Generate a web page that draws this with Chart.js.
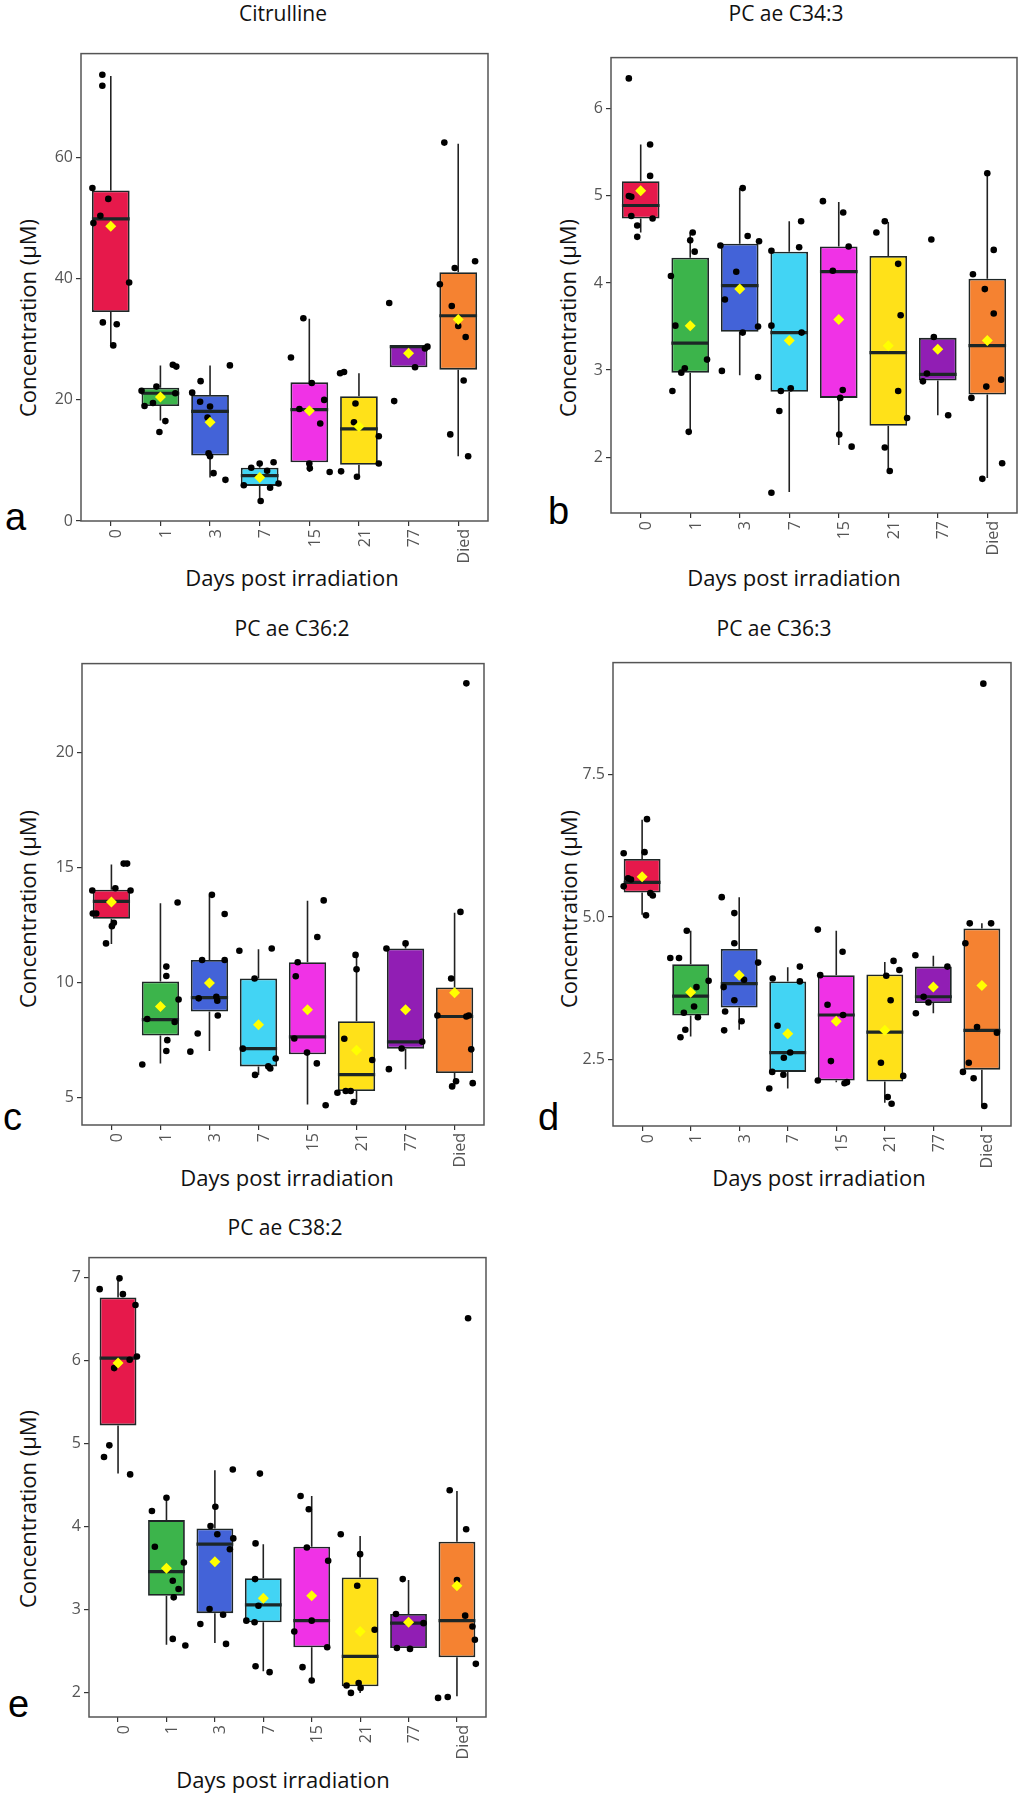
<!DOCTYPE html>
<html>
<head>
<meta charset="utf-8">
<script src="https://cdn.jsdelivr.net/npm/chart.js@4.4.1/dist/chart.umd.min.js"></script>
<style>
  body { margin: 0; background: #fff; width: 1022px; height: 1800px; position: relative; overflow: hidden; font-family: 'Open Sans', sans-serif; }
  .wrap { position: absolute; }
  .t { position: absolute; transform: translate(-50%, -50%); white-space: nowrap; color: #111; line-height: 1; }
  .title { font-size: 21px; }
  .axt { font-size: 22px; }
  .ylab { transform: translate(-50%, -50%) rotate(-90deg); }
  .letter { position: absolute; font: 38px 'Liberation Sans', Arial, sans-serif; line-height: 1; color: #000; }
</style>
</head>
<body>

<!-- panel a -->
<div class="t title" style="left:283px;top:12.5px">Citrulline</div>
<div class="t axt ylab" style="left:27px;top:318px">Concentration (µM)</div>
<div class="t axt" style="left:292px;top:577px">Days post irradiation</div>
<div class="letter" style="left:5px;top:498px">a</div>
<div class="wrap" id="wa"><canvas id="ca"></canvas></div>

<!-- panel b -->
<div class="t title" style="left:786px;top:13px">PC ae C34:3</div>
<div class="t axt ylab" style="left:567px;top:318px">Concentration (µM)</div>
<div class="t axt" style="left:794px;top:577px">Days post irradiation</div>
<div class="letter" style="left:548px;top:492px">b</div>
<div class="wrap" id="wb"><canvas id="cb"></canvas></div>

<!-- panel c -->
<div class="t title" style="left:292px;top:628px">PC ae C36:2</div>
<div class="t axt ylab" style="left:27px;top:909px">Concentration (µM)</div>
<div class="t axt" style="left:287px;top:1177px">Days post irradiation</div>
<div class="letter" style="left:3px;top:1098px">c</div>
<div class="wrap" id="wc"><canvas id="cc"></canvas></div>

<!-- panel d -->
<div class="t title" style="left:774px;top:628px">PC ae C36:3</div>
<div class="t axt ylab" style="left:568px;top:909px">Concentration (µM)</div>
<div class="t axt" style="left:819px;top:1177px">Days post irradiation</div>
<div class="letter" style="left:538px;top:1098px">d</div>
<div class="wrap" id="wd"><canvas id="cd"></canvas></div>

<!-- panel e -->
<div class="t title" style="left:285px;top:1227px">PC ae C38:2</div>
<div class="t axt ylab" style="left:27px;top:1509px">Concentration (µM)</div>
<div class="t axt" style="left:283px;top:1779px">Days post irradiation</div>
<div class="letter" style="left:8px;top:1685px">e</div>
<div class="wrap" id="we"><canvas id="ce"></canvas></div>

<script>
// ---- shared categories / colours ----
const days = ['0', '1', '3', '7', '15', '21', '77', 'Died'];
const boxColors = ['#e6194b', '#3cb44b', '#4363d8', '#42d4f4', '#f032e6', '#ffe119', '#911eb4', '#f58231'];

// ---- a: Citrulline ----
const citTicks = [0, 20, 40, 60];
const citTickLabels = ['0', '20', '40', '60'];
const citRange = [0, 77.2];
const citLow  = [29.2, 16.6, 7.2, 3.4, 8.1, 7.3, 25.4, 10.7];
const citQ1   = [34.5, 19.0, 10.8, 5.8, 9.7, 9.3, 25.4, 25.0];
const citMed  = [49.9, 21.1, 18.1, 7.5, 18.4, 15.2, 28.8, 33.9];
const citQ3   = [54.6, 22.0, 20.8, 8.8, 22.9, 20.6, 28.9, 41.1];
const citHigh = [73.5, 25.7, 25.7, 9.7, 33.4, 24.4, 28.9, 62.3];
const citMean = [48.7, 20.5, 16.3, 7.2, 18.2, 15.6, 27.7, 33.3];
const citValues = [
  [73.7, 71.9, 55.0, 53.2, 50.4, 49.2, 39.4, 32.8, 32.5, 29.0],
  [25.8, 25.5, 21.5, 22.2, 21.1, 19.0, 19.5, 16.5, 14.7],
  [25.7, 23.1, 21.2, 19.7, 18.9, 17.1, 11.2, 10.7, 7.9, 6.8],
  [8.8, 9.5, 9.7, 8.3, 5.9, 6.2, 5.5, 3.3],
  [33.5, 27.0, 22.8, 20.0, 18.5, 16.1, 9.5, 8.7, 8.1],
  [24.4, 24.6, 19.4, 16.3, 14.0, 9.5, 8.2, 7.3],
  [36.0, 28.8, 28.5, 25.4, 19.8],
  [62.5, 42.9, 41.8, 39.1, 35.5, 32.2, 30.4, 23.2, 14.3, 10.7]
];
const citJitter = [
  [-0.17, -0.17, -0.37, -0.05, -0.21, -0.35, 0.37, -0.16, 0.12, 0.05],
  [0.25, 0.32, -0.38, -0.08, 0.30, -0.32, -0.15, 0.10, -0.02],
  [0.40, -0.19, -0.36, -0.20, 0, -0.05, -0.03, 0, 0.07, 0.31],
  [-0.17, 0, 0.28, 0.15, -0.32, 0.38, 0.21, 0.02],
  [-0.12, -0.37, 0.05, 0.30, -0.20, 0.22, 0, 0.01, 0.41],
  [-0.38, -0.30, -0.07, -0.10, 0.40, 0.40, -0.36, -0.04],
  [-0.39, 0.38, 0.33, 0.13, -0.29],
  [-0.28, 0.34, -0.07, -0.37, -0.13, 0, 0.15, 0.11, -0.16, 0.20]
];

// ---- b: PC ae C34:3 ----
const c343Ticks = [2, 3, 4, 5, 6];
const c343TickLabels = ['2', '3', '4', '5', '6'];
const c343Range = [1.358, 6.589];
const c343Low  = [4.58, 2.29, 2.94, 1.60, 2.14, 1.84, 2.48, 1.76];
const c343Q1   = [4.74, 2.97, 3.44, 2.75, 2.68, 2.36, 2.88, 2.72];
const c343Med  = [4.89, 3.31, 3.97, 3.43, 4.13, 3.20, 2.95, 3.28];
const c343Q3   = [5.17, 4.29, 4.45, 4.36, 4.42, 4.31, 3.37, 4.05];
const c343High = [5.59, 4.58, 5.09, 4.71, 4.93, 4.70, 3.37, 5.26];
const c343Mean = [5.06, 3.51, 3.93, 3.34, 3.58, 3.28, 3.24, 3.34];
const c343Values = [
  [6.35, 5.59, 5.23, 5.00, 4.99, 4.77, 4.74, 4.66, 4.53],
  [4.58, 4.49, 4.36, 4.08, 3.51, 3.12, 3.02, 2.97, 2.76, 2.29],
  [5.09, 4.54, 4.43, 4.48, 4.13, 3.81, 3.50, 3.43, 2.99, 2.92],
  [4.71, 4.37, 4.41, 3.51, 3.43, 2.76, 2.79, 2.53, 1.59],
  [4.94, 4.81, 4.42, 4.14, 2.77, 2.68, 2.26, 2.12],
  [4.71, 4.58, 4.22, 3.63, 2.76, 2.45, 2.11, 1.84],
  [4.50, 3.38, 2.96, 2.87, 2.48],
  [5.26, 4.38, 4.10, 3.93, 3.65, 2.89, 2.81, 2.68, 1.93, 1.75]
];
const c343Jitter = [
  [-0.24, 0.19, 0.19, -0.24, -0.19, -0.19, 0.24, -0.07, -0.07],
  [0.05, 0, 0.09, -0.39, -0.30, 0.34, -0.11, -0.18, -0.36, -0.03],
  [0.06, 0.16, -0.39, 0.39, -0.07, -0.30, 0.37, 0.06, -0.36, 0.37],
  [0.24, -0.36, 0.20, -0.36, 0.25, -0.17, 0.03, -0.20, -0.36],
  [-0.32, 0.09, 0.20, -0.12, 0.08, 0.03, 0.01, 0.26],
  [-0.07, -0.24, 0.20, 0.25, 0.20, 0.38, -0.07, 0.03],
  [-0.13, -0.08, -0.22, -0.30, 0.21],
  [0, 0.13, -0.29, -0.05, 0.13, 0.28, -0.02, -0.32, 0.30, -0.10]
];

// ---- c: PC ae C36:2 ----
const c362Ticks = [5, 10, 15, 20];
const c362TickLabels = ['5', '10', '15', '20'];
const c362Range = [3.81, 23.88];
const c362Low  = [11.68, 6.49, 7.03, 5.99, 4.70, 4.81, 6.24, 5.50];
const c362Q1   = [12.78, 7.70, 8.75, 6.36, 6.89, 5.29, 7.13, 6.07];
const c362Med  = [13.54, 8.39, 9.35, 7.13, 7.64, 6.00, 7.43, 8.53];
const c362Q3   = [14.04, 10.05, 10.99, 10.18, 10.89, 8.32, 11.49, 9.79];
const c362High = [15.14, 13.46, 13.79, 11.46, 13.56, 11.22, 11.71, 13.04];
const c362Mean = [13.51, 8.96, 9.99, 8.17, 8.82, 7.06, 8.82, 9.56];
const c362Values = [
  [15.18, 15.18, 14.01, 14.11, 14.01, 13.01, 13.01, 12.61, 12.46, 11.71],
  [13.49, 10.70, 10.29, 9.27, 8.42, 8.29, 7.50, 7.03, 6.44],
  [13.82, 12.99, 10.99, 10.99, 9.32, 9.39, 9.22, 8.57, 7.79, 7.00],
  [11.39, 11.49, 10.18, 7.13, 6.70, 6.36, 6.27, 5.99],
  [13.58, 11.99, 10.89, 10.28, 7.57, 6.96, 6.49, 4.67],
  [11.21, 10.58, 7.56, 6.64, 5.21, 5.29, 5.29, 4.81],
  [11.49, 11.71, 7.43, 7.14, 6.24],
  [23.02, 13.08, 10.18, 8.57, 8.53, 8.57, 7.10, 5.71, 5.49, 5.63]
];
const c362Jitter = [
  [0.25, 0.32, -0.39, 0.08, 0.39, -0.38, -0.31, 0.05, 0.01, -0.11],
  [0.35, 0.12, 0.12, 0.37, -0.27, 0.29, 0.14, 0.12, -0.37],
  [0.05, 0.31, -0.15, 0.31, -0.22, 0.14, 0.16, 0.17, -0.24, -0.39],
  [-0.39, 0.27, -0.08, -0.32, 0.35, 0.20, 0.24, -0.07],
  [0.33, 0.20, -0.20, -0.24, -0.27, -0.01, 0.19, 0.37],
  [-0.02, 0, -0.25, 0.32, -0.39, -0.22, -0.12, -0.06],
  [-0.39, 0, 0.34, -0.08, -0.34],
  [0.24, 0.12, -0.07, -0.35, 0.24, 0.29, 0.34, 0.03, -0.05, 0.37]
];

// ---- d: PC ae C36:3 ----
const c363Ticks = [2.5, 5.0, 7.5];
const c363TickLabels = ['2.5', '5.0', '7.5'];
const c363Range = [1.33, 9.47];
const c363Low  = [5.04, 2.90, 3.02, 1.99, 2.10, 1.74, 3.31, 1.68];
const c363Q1   = [5.43, 3.27, 3.41, 2.28, 2.13, 2.11, 3.49, 2.32];
const c363Med  = [5.61, 3.61, 3.83, 2.62, 3.28, 2.98, 3.60, 3.01];
const c363Q3   = [6.02, 4.17, 4.44, 3.87, 3.98, 3.99, 4.13, 4.80];
const c363High = [6.71, 4.76, 5.35, 4.12, 4.76, 4.21, 4.32, 4.89];
const c363Mean = [5.71, 3.68, 3.98, 2.95, 3.17, 3.01, 3.77, 3.80];
const c363Values = [
  [6.72, 6.12, 6.14, 5.68, 5.66, 5.54, 5.42, 5.38, 5.03],
  [4.76, 4.28, 4.28, 3.88, 3.77, 3.32, 3.43, 3.24, 3.02, 2.89],
  [5.35, 5.07, 4.54, 4.20, 3.90, 3.77, 3.54, 3.34, 3.17, 3.01],
  [4.13, 3.92, 3.87, 3.09, 2.62, 2.53, 2.28, 2.23, 1.99],
  [4.78, 4.39, 3.98, 3.46, 3.28, 2.47, 2.13, 2.08, 2.10],
  [4.23, 4.07, 3.97, 3.54, 2.44, 2.21, 1.84, 1.72],
  [4.33, 4.13, 3.60, 3.50, 3.31],
  [9.10, 4.89, 4.89, 4.54, 3.07, 2.97, 2.44, 2.28, 2.17, 1.68]
];
const c363Jitter = [
  [0.10, -0.38, 0.05, -0.29, -0.23, -0.38, 0.17, 0.22, 0.08],
  [-0.08, -0.42, -0.24, 0.37, 0.12, -0.14, 0.07, 0.15, -0.11, -0.21],
  [-0.36, -0.10, -0.10, 0.39, 0.10, -0.32, -0.10, -0.29, 0.05, -0.31],
  [0.25, -0.31, 0.25, -0.21, 0.05, -0.08, -0.32, -0.09, -0.38],
  [-0.38, 0.13, -0.33, -0.18, 0.14, -0.11, -0.38, 0.17, 0.22],
  [0.18, 0.30, 0.03, 0.12, -0.08, 0.38, 0.06, 0.14],
  [-0.37, 0.29, -0.20, -0.10, -0.36],
  [0.03, -0.25, 0.19, -0.34, -0.10, 0.31, -0.27, -0.39, -0.17, 0.05]
];

// ---- e: PC ae C38:2 ----
const c382Ticks = [2, 3, 4, 5, 6, 7];
const c382TickLabels = ['2', '3', '4', '5', '6', '7'];
const c382Range = [1.71, 7.24];
const c382Low  = [4.64, 2.58, 2.60, 2.26, 2.15, 2.00, 2.54, 1.96];
const c382Q1   = [5.22, 3.17, 2.96, 2.85, 2.55, 2.08, 2.54, 2.43];
const c382Med  = [6.03, 3.46, 3.79, 3.06, 2.87, 2.44, 2.84, 2.87];
const c382Q3   = [6.76, 4.08, 3.98, 3.38, 3.76, 3.39, 2.95, 3.82];
const c382High = [6.99, 4.35, 4.68, 3.79, 4.37, 3.89, 3.36, 4.43];
const c382Mean = [5.97, 3.50, 3.58, 3.14, 3.17, 2.74, 2.85, 3.29];
const c382Values = [
  [6.99, 6.86, 6.80, 6.67, 6.05, 6.01, 5.91, 4.98, 4.84, 4.63],
  [4.35, 4.19, 3.76, 3.57, 3.35, 3.25, 3.15, 2.65, 2.57],
  [4.69, 4.24, 4.01, 3.91, 3.86, 3.73, 3.01, 2.94, 2.83, 2.59],
  [4.64, 3.80, 3.37, 3.05, 2.87, 2.85, 2.32, 2.25],
  [4.37, 4.21, 3.75, 3.59, 2.87, 2.74, 2.55, 2.31, 2.15],
  [3.91, 3.67, 3.29, 2.76, 2.09, 2.12, 2.00, 2.06],
  [3.37, 2.95, 2.84, 2.54, 2.53],
  [6.51, 4.44, 3.97, 3.36, 2.93, 2.80, 2.64, 2.35, 1.94, 1.95]
];
const c382Jitter = [
  [0.03, -0.38, 0.10, 0.36, 0.39, 0.24, -0.08, -0.18, -0.29, 0.25],
  [0, -0.30, -0.24, 0.36, 0.13, 0.25, 0.15, 0.13, 0.39],
  [0.37, 0.01, -0.09, 0.05, 0.38, 0.31, -0.11, 0.17, -0.30, 0.23],
  [-0.07, -0.16, -0.17, -0.10, -0.35, -0.18, -0.16, 0.13],
  [-0.23, -0.06, -0.10, 0.34, 0, -0.36, 0.32, -0.19, 0],
  [-0.40, 0, -0.06, 0.30, -0.28, -0.03, -0.19, 0.01],
  [-0.12, -0.26, 0.31, -0.24, 0.03],
  [0.23, -0.15, 0.19, 0, 0.17, 0.32, 0.37, 0.39, -0.39, -0.19]
];

// ---- layout ----
const AX_W = 50, AX_H = 50, PAD = 6;
const BOX_W = 0.76;
const FONT = 'Open Sans';

const panels = [
  { id: 'a', L: 81,  T: 47,   W: 407, H: 474, ticks: citTicks, tickLabels: citTickLabels, range: citRange,
    lo: citLow, q1: citQ1, med: citMed, q3: citQ3, hi: citHigh, mean: citMean, values: citValues, jitter: citJitter },
  { id: 'b', L: 611, T: 51,   W: 406, H: 462, ticks: c343Ticks, tickLabels: c343TickLabels, range: c343Range,
    lo: c343Low, q1: c343Q1, med: c343Med, q3: c343Q3, hi: c343High, mean: c343Mean, values: c343Values, jitter: c343Jitter },
  { id: 'c', L: 82,  T: 657,  W: 402, H: 468, ticks: c362Ticks, tickLabels: c362TickLabels, range: c362Range,
    lo: c362Low, q1: c362Q1, med: c362Med, q3: c362Q3, hi: c362High, mean: c362Mean, values: c362Values, jitter: c362Jitter },
  { id: 'd', L: 613, T: 656,  W: 398, H: 470, ticks: c363Ticks, tickLabels: c363TickLabels, range: c363Range,
    lo: c363Low, q1: c363Q1, med: c363Med, q3: c363Q3, hi: c363High, mean: c363Mean, values: c363Values, jitter: c363Jitter },
  { id: 'e', L: 89,  T: 1251, W: 397, H: 466, ticks: c382Ticks, tickLabels: c382TickLabels, range: c382Range,
    lo: c382Low, q1: c382Q1, med: c382Med, q3: c382Q3, hi: c382High, mean: c382Mean, values: c382Values, jitter: c382Jitter }
];

// grey box round the plot area, like ggplot's panel border
const framePlugin = {
  id: 'frame',
  afterDatasetsDraw(chart) {
    const { ctx, chartArea: a } = chart;
    ctx.save();
    ctx.strokeStyle = '#555';
    ctx.lineWidth = 1.5;
    ctx.strokeRect(a.left, a.top, a.width, a.height);
    ctx.restore();
  }
};

function drawPanel(p) {
  const wrap = document.getElementById('w' + p.id);
  const cw = AX_W + p.W + PAD, ch = PAD + p.H + AX_H;
  wrap.style.left = (p.L - AX_W) + 'px';
  wrap.style.top = (p.T - PAD) + 'px';
  const canvas = document.getElementById('c' + p.id);
  canvas.width = cw; canvas.height = ch;
  canvas.style.width = cw + 'px'; canvas.style.height = ch + 'px';

  const boxes = [], whiskers = [], medians = [], points = [], means = [];
  days.forEach((d, i) => {
    boxes.push({ x: i, y: [p.q1[i], p.q3[i]] });
    whiskers.push({ x: i, y: p.lo[i] }, { x: i, y: p.q1[i] }, { x: i, y: null },
                  { x: i, y: p.q3[i] }, { x: i, y: p.hi[i] }, { x: i, y: null });
    medians.push({ x: i - BOX_W / 2, y: p.med[i] }, { x: i + BOX_W / 2, y: p.med[i] }, { x: i, y: null });
    p.values[i].forEach((v, k) => points.push({ x: i + p.jitter[i][k], y: v }));
    means.push({ x: i, y: p.mean[i] });
  });

  new Chart(canvas.getContext('2d'), {
    type: 'bar',
    data: {
      datasets: [
        { type: 'line', data: whiskers, borderColor: '#222', borderWidth: 1.6, pointRadius: 0, spanGaps: false, order: 4 },
        { type: 'bar', data: boxes, backgroundColor: boxColors, borderColor: '#1e2626', borderWidth: 1.8,
          borderSkipped: false, categoryPercentage: BOX_W, barPercentage: 1, order: 3 },
        { type: 'line', data: medians, borderColor: '#1c2626', borderWidth: 3.2, pointRadius: 0, spanGaps: false, order: 2 },
        { type: 'scatter', data: points, backgroundColor: '#000', borderWidth: 0, pointRadius: 3.3, order: 1 },
        { type: 'scatter', data: means, backgroundColor: '#ffff00', borderWidth: 0, pointStyle: 'rectRot', pointRadius: 5.5, order: 0 }
      ]
    },
    options: {
      responsive: false,
      animation: false,
      layout: { padding: { top: PAD, right: PAD, left: 0, bottom: 0 } },
      plugins: { legend: { display: false }, tooltip: { enabled: false } },
      scales: {
        x: {
          type: 'linear', min: -0.6, max: 7.6, offset: false,
          afterBuildTicks: s => { s.ticks = days.map((d, i) => ({ value: i })); },
          afterFit: s => { s.height = AX_H; },
          grid: { display: true, offset: false, drawOnChartArea: false, drawTicks: true, tickLength: 5, color: '#333', lineWidth: 1.2 },
          border: { display: false },
          ticks: { autoSkip: false, minRotation: 90, maxRotation: 90, padding: 3, labelOffset: 6, color: '#555',
                   font: { family: FONT, size: 16 }, callback: v => days[v] }
        },
        y: {
          type: 'linear', min: p.range[0], max: p.range[1], beginAtZero: false,
          afterBuildTicks: s => { s.ticks = p.ticks.map(v => ({ value: v })); },
          afterFit: s => { s.width = AX_W; },
          grid: { display: true, drawOnChartArea: false, drawTicks: true, tickLength: 5, color: '#333', lineWidth: 1.2 },
          border: { display: false },
          ticks: { padding: 3, color: '#555', font: { family: FONT, size: 16 },
                   callback: (v, i) => p.tickLabels[i] }
        }
      }
    },
    plugins: [framePlugin]
  });
}

panels.forEach(drawPanel);
</script>
</body>
</html>
